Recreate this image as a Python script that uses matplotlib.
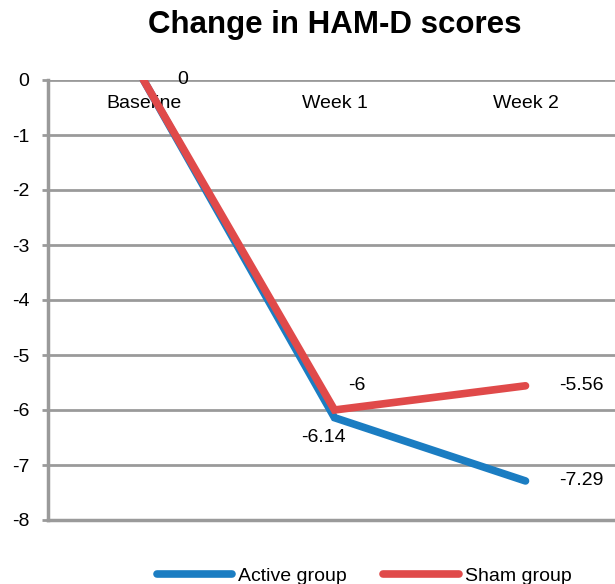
import matplotlib
matplotlib.use("Agg")
import matplotlib.pyplot as plt

plt.rcParams["font.family"] = ["Liberation Sans", "DejaVu Sans"]

categories = ["Baseline", "Week 1", "Week 2"]
active = [0, -6.14, -7.29]
sham = [0, -6, -5.56]
yticks = [0, -1, -2, -3, -4, -5, -6, -7, -8]

BLUE = "#1b7dc2"
RED = "#e04a4a"
GRID = "#9a9a9a"
FS = 14

fig = plt.figure(figsize=(6.15, 5.84), dpi=100)
ax = fig.add_axes([48 / 615, 1 - 520 / 584, 573 / 615, 440 / 584])

x = list(range(len(categories)))
ax.plot(x, active, color=BLUE, linewidth=5.5, solid_capstyle="round", solid_joinstyle="miter", label="Active group", zorder=3)
ax.plot(x, sham, color=RED, linewidth=5.5, solid_capstyle="round", solid_joinstyle="miter", label="Sham group", zorder=4)

ax.set_xlim(-0.5, 2.5)
ax.set_ylim(-8, 0)
ax.set_yticks(yticks)
ax.set_yticklabels([str(v) for v in yticks], fontsize=FS)
ax.set_xticks([])
ax.tick_params(axis="y", length=4.5, width=2, color=GRID, pad=9)
ax.grid(axis="y", color=GRID, linewidth=2)
ax.set_axisbelow(True)
for side in ("top", "right"):
    ax.spines[side].set_visible(False)
for side in ("left", "bottom"):
    ax.spines[side].set_color(GRID)
    ax.spines[side].set_linewidth(2.5)

# category labels sit just under the zero line
for i, name in enumerate(categories):
    ax.annotate(name, (i, 0), xytext=(0, -17), textcoords="offset points",
                ha="center", va="center", fontsize=FS)

# data labels
ax.annotate(f"{active[0]:g}", (x[0], active[0]), xytext=(28, 0), textcoords="offset points",
            ha="center", va="center", fontsize=FS)
ax.annotate(f"{active[1]:g}", (x[1], active[1]), xytext=(-8, -14), textcoords="offset points",
            ha="center", va="center", fontsize=FS)
ax.annotate(f"{active[2]:g}", (x[2], active[2]), xytext=(40, 0), textcoords="offset points",
            ha="center", va="center", fontsize=FS)
ax.annotate(f"{sham[1]:g}", (x[1], sham[1]), xytext=(16, 18), textcoords="offset points",
            ha="center", va="center", fontsize=FS)
ax.annotate(f"{sham[2]:g}", (x[2], sham[2]), xytext=(40, 0), textcoords="offset points",
            ha="center", va="center", fontsize=FS)

fig.text(335 / 615, 1 - 25 / 584, "Change in HAM-D scores", ha="center", va="center",
         fontsize=22.5, fontweight="bold")

fig.legend(loc="center", bbox_to_anchor=(364 / 615, 1 - 576 / 584), ncol=2, frameon=False,
           fontsize=FS, handlelength=3.9, columnspacing=1.85, handletextpad=0.3)

fig.savefig("out.png", dpi=100)
